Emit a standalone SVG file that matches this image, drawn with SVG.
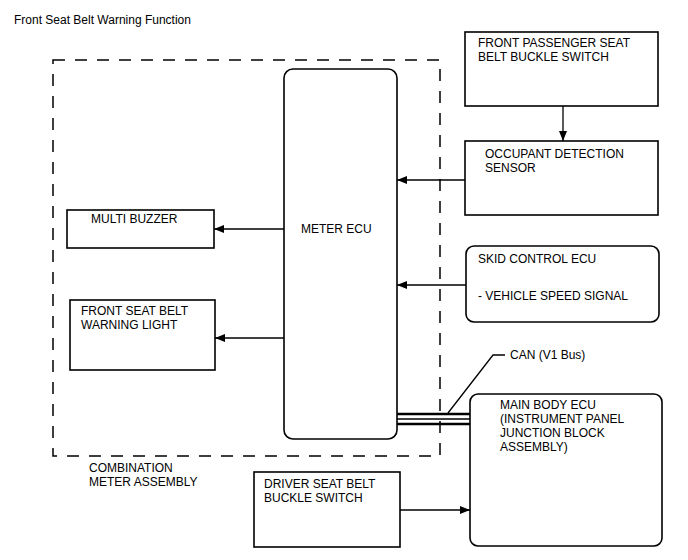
<svg xmlns="http://www.w3.org/2000/svg" width="688" height="560" viewBox="0 0 688 560">
<defs>
<style>
text{font-family:"Liberation Sans",Arial,sans-serif;font-size:12px;fill:#000}
.box{fill:#fff;stroke:#000;stroke-width:1.6}
.ln{stroke:#000;stroke-width:1.3;fill:none}
</style>
<marker id="ah" markerWidth="10" markerHeight="8" refX="10" refY="4" orient="auto" markerUnits="userSpaceOnUse">
<path d="M0,0 L10,4 L0,8 Z" fill="#000"/>
</marker>
</defs>
<rect width="688" height="560" fill="#fff"/>
<text x="14" y="24">Front Seat Belt Warning Function</text>
<g id="combination-meter">
<rect x="53" y="60" width="387" height="396" fill="none" stroke="#000" stroke-width="1.5" stroke-dasharray="12 10"/>
<text x="89" y="472">COMBINATION</text>
<text x="89" y="486">METER ASSEMBLY</text>
</g>
<g id="meter-ecu">
<rect class="box" x="284" y="69" width="113" height="370" rx="9"/>
<text x="301" y="233">METER ECU</text>
</g>
<g id="multi-buzzer">
<rect class="box" x="67" y="210" width="147" height="38"/>
<text x="91" y="223">MULTI BUZZER</text>
</g>
<g id="warning-light">
<rect class="box" x="70" y="300" width="145" height="70"/>
<text x="81" y="315">FRONT SEAT BELT</text>
<text x="81" y="329">WARNING LIGHT</text>
</g>
<g id="passenger-buckle">
<rect class="box" x="465" y="32" width="193" height="74"/>
<text x="478" y="47">FRONT PASSENGER SEAT</text>
<text x="478" y="61">BELT BUCKLE SWITCH</text>
</g>
<g id="occupant-sensor">
<rect class="box" x="465" y="141" width="193" height="74"/>
<text x="485" y="158">OCCUPANT DETECTION</text>
<text x="485" y="172">SENSOR</text>
</g>
<g id="skid-control">
<rect class="box" x="466" y="246" width="193" height="76" rx="8"/>
<text x="478" y="263">SKID CONTROL ECU</text>
<text x="478" y="300">- VEHICLE SPEED SIGNAL</text>
</g>
<g id="main-body-ecu">
<rect class="box" x="470" y="394" width="192" height="152" rx="8"/>
<text x="500" y="409">MAIN BODY ECU</text>
<text x="500" y="423">(INSTRUMENT PANEL</text>
<text x="500" y="437">JUNCTION BLOCK</text>
<text x="500" y="451">ASSEMBLY)</text>
</g>
<g id="driver-buckle">
<rect class="box" x="254" y="472" width="146" height="75"/>
<text x="264" y="488">DRIVER SEAT BELT</text>
<text x="264" y="502">BUCKLE SWITCH</text>
</g>
<g id="connectors">
<line class="ln" x1="284" y1="229" x2="214" y2="229" marker-end="url(#ah)"/>
<line class="ln" x1="284" y1="338" x2="215" y2="338" marker-end="url(#ah)"/>
<line class="ln" x1="563" y1="106" x2="563" y2="141" marker-end="url(#ah)"/>
<line class="ln" x1="465" y1="180" x2="397" y2="180" marker-end="url(#ah)"/>
<line class="ln" x1="466" y1="285" x2="397" y2="285" marker-end="url(#ah)"/>
<line class="ln" x1="400" y1="510" x2="470" y2="510" marker-end="url(#ah)"/>
<line x1="397" y1="414" x2="470" y2="414" stroke="#000" stroke-width="2.4"/>
<line x1="397" y1="419" x2="470" y2="419" stroke="#000" stroke-width="1.4"/>
<line x1="397" y1="424" x2="470" y2="424" stroke="#000" stroke-width="2.4"/>
<polyline class="ln" stroke-width="1" points="448,413 493,355 505,355"/>
<text x="510" y="359">CAN (V1 Bus)</text>
</g>
</svg>
